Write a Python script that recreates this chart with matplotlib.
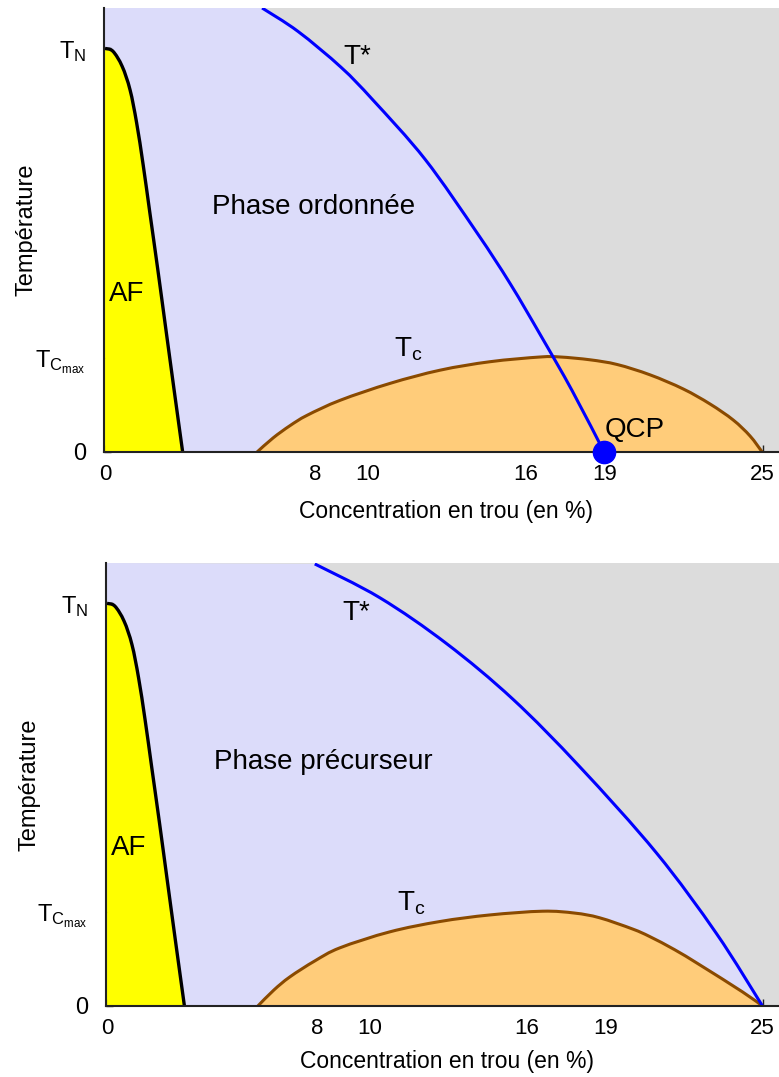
import numpy as np
import matplotlib
matplotlib.use("Agg")
import matplotlib.pyplot as plt
from matplotlib.path import Path
from matplotlib.patches import PathPatch

plt.rcParams['font.family'] = ['Liberation Sans', 'DejaVu Sans']
plt.rcParams['mathtext.fontset'] = 'custom'
plt.rcParams['mathtext.rm'] = 'Liberation Sans'
plt.rcParams['mathtext.it'] = 'Liberation Sans'

# concentration (%) / temperature (units of Tc max)
af_x = [0.0, 0.3, 0.65, 0.95, 1.2, 1.45, 1.7, 2.0, 2.3, 2.62, 2.95]
af_t = [4.29, 4.26, 4.1, 3.85, 3.5, 3.05, 2.55, 1.95, 1.33, 0.67, 0.0]

# superconducting dome, top and bottom panel
tc1_x = [5.78, 6.39, 7.03, 7.68, 8.94, 10.84, 12.74, 14.64, 16.54, 17.3,
         18.44, 19.47, 20.72, 21.98, 23.0, 23.88, 24.52, 24.98]
tc1_t = [0.0, 0.15, 0.28, 0.39, 0.55, 0.73, 0.87, 0.96, 1.01, 1.01,
         0.98, 0.93, 0.82, 0.67, 0.51, 0.34, 0.17, 0.0]

tc2_x = [5.75, 6.36, 6.97, 7.92, 8.88, 10.78, 12.69, 14.59, 16.61, 17.83,
         18.78, 20.04, 20.69, 21.64, 22.59, 24.23, 24.99]
tc2_t = [0.0, 0.17, 0.31, 0.48, 0.62, 0.79, 0.90, 0.97, 1.01, 0.99,
         0.94, 0.82, 0.74, 0.60, 0.44, 0.15, 0.0]

# T* : ends at the QCP (top) or at 25 % (bottom)
tstar1_x = [5.97, 7.34, 8.97, 10.19, 12.17, 14.14, 15.40, 16.58, 17.76, 18.97]
tstar1_t = [4.72, 4.47, 4.09, 3.74, 3.11, 2.33, 1.79, 1.23, 0.65, 0.0]

tstar2_x = [7.92, 10.40, 12.95, 15.47, 18.02, 20.95, 23.24, 24.99]
tstar2_t = [4.71, 4.35, 3.86, 3.27, 2.55, 1.63, 0.77, 0.0]

qcp = (18.97, 0.0)

xticks = [0, 8, 10, 16, 19, 25]
yticks = [0, 1.0, 4.29]
ylabels = ['0', r'$\mathrm{T_{C_{max}}}$', r'$\mathrm{T_N}$']

XMIN, XMAX = -0.04, 25.62
TMAX = 4.72

c_gray = '#dcdcdc'
c_lav = '#dcdcfa'
c_yel = '#ffff00'
c_orange = '#ffcc7a'
c_brown = '#8a4a00'
c_blue = '#0000ff'


def smooth(xs, ys):
    # bezier segments through the read points (catmull-rom handles)
    p = np.column_stack([xs, ys]).astype(float)
    n = len(p)
    verts, codes = [p[0]], [Path.MOVETO]
    for i in range(n - 1):
        p0 = p[i - 1] if i > 0 else p[i]
        p3 = p[i + 2] if i + 2 < n else p[i + 1]
        verts += [p[i] + (p[i + 1] - p0) / 6, p[i + 1] - (p3 - p[i]) / 6, p[i + 1]]
        codes += [Path.CURVE4] * 3
    return verts, codes


def closed(start, xs, ys):
    v, c = smooth(xs, ys)
    start = [np.array(s, float) for s in start]
    if start:
        verts = start + v
        codes = [Path.MOVETO] + [Path.LINETO] * len(start) + c[1:]
    else:
        verts, codes = v, c
    verts = verts + [verts[0]]
    codes = codes + [Path.CLOSEPOLY]
    return Path(verts, codes)


W, H = 779, 1077
fig = plt.figure(figsize=(W / 100, H / 100), dpi=100)


def panel(rect, tx, tt, dx, dt, phase, tstar_pos, tc_pos, with_qcp, xlab_y):
    ax = fig.add_axes(rect)
    ax.set_facecolor(c_gray)
    ax.set_xlim(XMIN, XMAX)
    ax.set_ylim(0, TMAX)

    ax.add_patch(PathPatch(closed([(XMIN, 0), (XMIN, TMAX)], tx, tt),
                           fc=c_lav, lw=0, zorder=1))
    ax.add_patch(PathPatch(closed([], dx, dt), fc=c_orange, lw=0, zorder=2))
    ax.add_patch(PathPatch(closed([(0, 0)], af_x, af_t), fc=c_yel, lw=0, zorder=2))

    v, c = smooth(dx, dt)
    ax.add_patch(PathPatch(Path(v, c), fill=False, ec=c_brown, lw=2.2, zorder=3))
    v, c = smooth(af_x, af_t)
    ax.add_patch(PathPatch(Path(v, c), fill=False, ec='black', lw=2.4, zorder=3,
                           capstyle='butt'))
    v, c = smooth(tx, tt)
    ax.add_patch(PathPatch(Path(v, c), fill=False, ec=c_blue, lw=2.2, zorder=4,
                           capstyle='butt'))
    if with_qcp:
        ax.plot([qcp[0]], [qcp[1]], 'o', color=c_blue, ms=16, zorder=6, clip_on=False)
        ax.text(qcp[0] + 0.02, 0.23, 'QCP', fontsize=20, va='center', ha='left', zorder=5)

    ax.text(4.07, 2.6, phase, fontsize=20, va='center', ha='left')
    ax.text(0.15, 1.68, 'AF', fontsize=20, va='center', ha='left', zorder=5)
    ax.text(tstar_pos[0], tstar_pos[1], 'T*', fontsize=20, va='center', ha='left')
    ax.text(tc_pos[0], tc_pos[1], r'$\mathrm{T_c}$', fontsize=20, va='center', ha='left')

    for s in ['top', 'right']:
        ax.spines[s].set_visible(False)
    for s in ['left', 'bottom']:
        ax.spines[s].set_linewidth(1.5)
        ax.spines[s].set_color('#222222')
        ax.spines[s].set_zorder(5)

    ax.set_xticks(xticks)
    ax.set_yticks(yticks)
    ax.set_yticklabels(ylabels)
    ax.tick_params(direction='in', length=5, width=1, colors='#222222',
                   labelcolor='black', labelsize=16)
    ax.tick_params(axis='x', pad=9)
    ax.tick_params(axis='y', pad=13, labelsize=17)

    ax.set_xlabel('Concentration en trou (en %)', fontsize=16.5)
    ax.set_ylabel('Température', fontsize=17)
    ax.xaxis.set_label_coords(0.506, xlab_y)
    ax.yaxis.set_label_coords(-0.098, 0.5)
    return ax


panel([104 / W, (H - 452) / H, 675 / W, 444 / H], tstar1_x, tstar1_t, tc1_x, tc1_t,
      'Phase ordonnée', (9.05, 4.2), (10.99, 1.09), True, -0.108)
panel([106 / W, (H - 1006) / H, 673 / W, 443 / H], tstar2_x, tstar2_t, tc2_x, tc2_t,
      'Phase précurseur', (8.99, 4.19), (11.05, 1.1), False, -0.1)

fig.savefig('out.png', dpi=100)
